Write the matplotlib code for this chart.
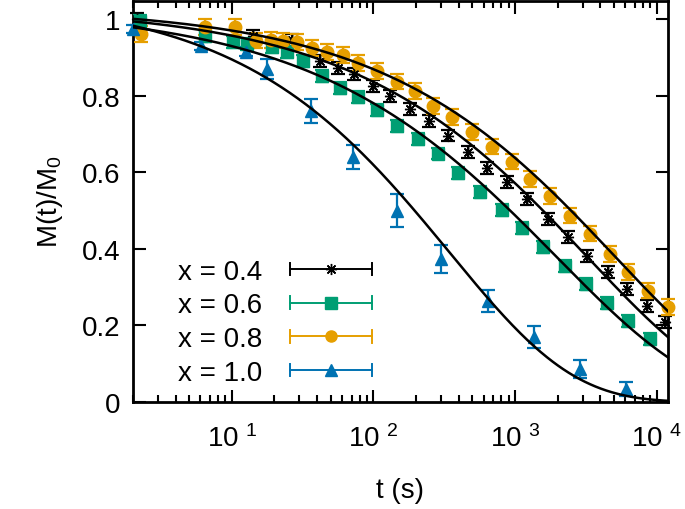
import numpy as np
import matplotlib.pyplot as plt
from matplotlib.lines import Line2D
from matplotlib.legend_handler import HandlerBase
from matplotlib.ticker import FixedLocator, FuncFormatter, NullFormatter

plt.rcParams['font.family'] = ['Liberation Sans', 'DejaVu Sans']
plt.rcParams['mathtext.fontset'] = 'custom'
plt.rcParams['mathtext.rm'] = 'Liberation Sans'
plt.rcParams['mathtext.it'] = 'Liberation Sans:italic'

# Messdaten x = 0.4
t_04 = [2.13, 14.1, 26.5, 41.9, 56.1, 72.8, 99.1, 131, 181, 246, 336, 465, 633,
        876, 1212, 1706, 2361, 3217, 4525, 6162, 8530, 11430]
m_04 = [1.0, 0.956, 0.945, 0.890, 0.872, 0.856, 0.825, 0.799, 0.765, 0.734, 0.695,
        0.653, 0.611, 0.574, 0.530, 0.478, 0.431, 0.381, 0.339, 0.295, 0.251, 0.209]
e_04 = [0.015] * len(t_04)

# x = 0.6
t_06 = [2.24, 6.45, 10.2, 12.8, 19.2, 24.5, 31.7, 43.2, 58.0, 77.6, 106, 146, 206,
        285, 395, 564, 807, 1117, 1572, 2249, 3165, 4448, 6266, 8950]
m_06 = [0.995, 0.956, 0.940, 0.935, 0.927, 0.914, 0.890, 0.851, 0.820, 0.796, 0.762,
        0.721, 0.687, 0.648, 0.598, 0.548, 0.501, 0.454, 0.405, 0.355, 0.308, 0.258,
        0.211, 0.164]
e_06 = [0.015] * len(t_06)

# x = 0.8
t_08 = [2.3, 6.45, 10.5, 14.8, 18.9, 22.9, 28.8, 36.7, 46.9, 60.8, 77.6, 106, 146,
        196, 263, 358, 496, 686, 950, 1273, 1762, 2440, 3377, 4677, 6266, 8670, 12000]
m_08 = [0.961, 0.979, 0.979, 0.943, 0.945, 0.943, 0.940, 0.924, 0.914, 0.906, 0.885,
        0.864, 0.836, 0.812, 0.773, 0.744, 0.705, 0.666, 0.627, 0.582, 0.538, 0.486,
        0.439, 0.386, 0.339, 0.290, 0.248]
e_08 = [0.02] * len(t_08)

# x = 1.0
t_10 = [2.0, 6.05, 12.6, 17.6, 36.1, 71.7, 146, 298, 643, 1360, 2870, 6070]
m_10 = [0.974, 0.930, 0.914, 0.869, 0.760, 0.640, 0.499, 0.373, 0.264, 0.170, 0.086, 0.034]
e_10 = [0.01, 0.01, 0.012, 0.026, 0.031, 0.031, 0.043, 0.037, 0.028, 0.029, 0.024, 0.018]

labels = ['x = 0.4', 'x = 0.6', 'x = 0.8', 'x = 1.0']
colors = ['#000000', '#009E73', '#E69F00', '#0072B2']
markers = [(8, 2, 0), 's', 'o', '^']

# Fit-Parameter: M = A * exp(-(t/tau)^beta)
fit_amp = [1.03, 1.03, 1.03, 1.06]
fit_tau = [3230, 1960, 5100, 345]
fit_beta = [0.45, 0.43, 0.45, 0.5]


class ErrorKey(HandlerBase):
    # Legendensymbol wie bei gnuplot: waagerechte Linie mit Endkappen
    def create_artists(self, legend, orig_handle, xdescent, ydescent, width,
                       height, fontsize, trans):
        c = orig_handle.get_color()
        y = 0.5 * height - ydescent
        x0, x1 = -xdescent, width - xdescent
        h = 4.5
        arts = [Line2D([x0, x1], [y, y], color=c, lw=1.4),
                Line2D([x0, x0], [y - h, y + h], color=c, lw=1.4),
                Line2D([x1, x1], [y - h, y + h], color=c, lw=1.4),
                Line2D([0.5 * (x0 + x1)], [y], color=c, ls='',
                       marker=orig_handle.get_marker(),
                       markersize=orig_handle.get_markersize())]
        for a in arts:
            a.set_transform(trans)
        return arts


fig = plt.figure(figsize=(6.85, 5.1), dpi=100)
ax = fig.add_axes([0.194, 0.21, 0.781, 0.787])

series = [(t_04, m_04, e_04), (t_06, m_06, e_06), (t_08, m_08, e_08), (t_10, m_10, e_10)]
sizes = [8, 8, 9, 9]
for (t, m, e), c, mk, ms in zip(series, colors, markers, sizes):
    ax.errorbar(t, m, yerr=e, color=c, ls='', marker=mk, markersize=ms,
                elinewidth=1.6, capsize=5, capthick=1.6, clip_on=False, zorder=3)

tt = np.logspace(np.log10(2), np.log10(12000), 400)
for a, tau, b in zip(fit_amp, fit_tau, fit_beta):
    ax.plot(tt, a * np.exp(-(tt / tau) ** b), color='black', lw=1.8, zorder=4)

ax.set_xscale('log')
ax.set_xlim(2, 12000)
ax.set_ylim(0, 1.048)

ax.xaxis.set_major_locator(FixedLocator([10, 100, 1000, 10000]))
ax.xaxis.set_major_formatter(FuncFormatter(
    lambda v, p: '10 $^{%d}$' % round(np.log10(v))))
minors = [k * 10 ** d for d in range(0, 5) for k in range(2, 10)]
ax.xaxis.set_minor_locator(FixedLocator(minors))
ax.xaxis.set_minor_formatter(NullFormatter())
ax.set_yticks([0, 0.2, 0.4, 0.6, 0.8, 1.0])
ax.yaxis.set_major_formatter(FuncFormatter(lambda v, p: '%g' % v))

ax.tick_params(which='both', direction='in', top=True, right=True, labelsize=20,
               width=1.5)
ax.tick_params(which='major', length=9)
ax.tick_params(axis='x', which='major', pad=16)
ax.tick_params(axis='y', which='major', pad=9)
ax.tick_params(which='minor', length=5)
for s in ax.spines.values():
    s.set_linewidth(2)

ax.set_xlabel('t (s)', fontsize=20, labelpad=18)
ax.set_ylabel('M(t)/M$_0$', fontsize=20, labelpad=12)

proxies = [Line2D([], [], color=c, marker=mk, markersize=8, label=l)
           for c, mk, l in zip(colors, markers, labels)]
ax.legend(handles=proxies, handler_map={Line2D: ErrorKey()}, loc='lower left',
          bbox_to_anchor=(0.085, 0.04), frameon=False, fontsize=20,
          markerfirst=False, handlelength=2.95, handletextpad=1.0,
          labelspacing=0.28, borderpad=0, borderaxespad=0)

fig.savefig('out.png', dpi=100)
